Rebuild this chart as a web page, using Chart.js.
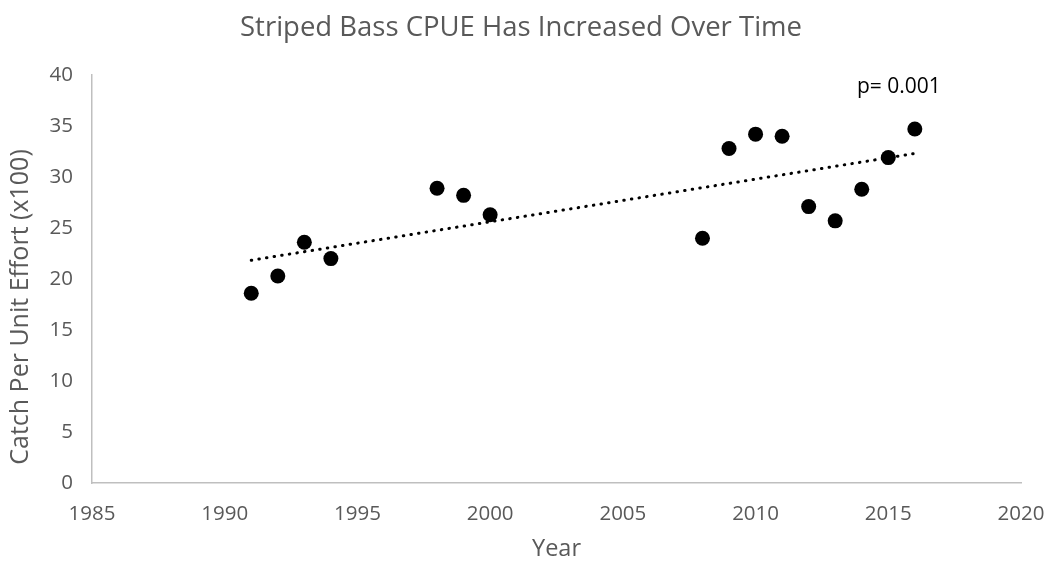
<!DOCTYPE html>
<html><head><meta charset="utf-8">
<script src="https://cdn.jsdelivr.net/npm/chart.js@4"></script>
<style>html,body{margin:0;padding:0;background:#fff}#wrap{width:1048px;height:565px}</style>
</head><body><div id="wrap"><canvas id="c" width="1048" height="565"></canvas></div>
<script>
const years = [1991,1992,1993,1994,1998,1999,2000,2008,2009,2010,2011,2012,2013,2014,2015,2016];
const cpue  = [18.6,20.3,23.6,22.0,28.9,28.2,26.3,24.0,32.8,34.2,34.0,27.1,25.7,28.8,31.9,34.7];
const xTickLabels = [1985,1990,1995,2000,2005,2010,2015,2020];
const yTickLabels = [0,5,10,15,20,25,30,35,40];
const chartTitle = 'Striped Bass CPUE Has Increased Over Time';
const xTitle = 'Year';
const yTitle = 'Catch Per Unit Effort (x100)';
const pLabel = 'p= 0.001';

// least-squares trendline computed from the data
const n = years.length;
const mx = years.reduce((a,b)=>a+b,0)/n;
const my = cpue.reduce((a,b)=>a+b,0)/n;
let sxy = 0, sxx = 0;
for (let i=0;i<n;i++){ sxy += (years[i]-mx)*(cpue[i]-my); sxx += (years[i]-mx)**2; }
const slope = sxy/sxx, icpt = my - slope*mx;
const x0 = years[0], x1 = years[n-1];
const trend = [{x:x0,y:icpt+slope*x0},{x:x1,y:icpt+slope*x1}];

const FONT = "'Open Sans', 'Noto Sans', sans-serif";
const GRAY = '#595959';

const textPlugin = {
  id: 'extraText',
  afterDatasetsDraw(chart){
    const {ctx, chartArea, scales:{x,y}} = chart;
    ctx.save();
    ctx.textAlign = 'center';
    ctx.textBaseline = 'middle';
    // chart title
    ctx.font = "27.5px " + FONT;
    ctx.fillStyle = GRAY;
    ctx.fillText(chartTitle, 521, 28);
    // p-value annotation
    ctx.font = "21px " + FONT;
    ctx.fillStyle = '#000';
    ctx.fillText(pLabel, x.getPixelForValue(2015.4), y.getPixelForValue(38.85));
    // y axis title
    ctx.font = "25px " + FONT;
    ctx.fillStyle = GRAY;
    ctx.translate(21, (chartArea.top + chartArea.bottom)/2 + 28);
    ctx.rotate(-Math.PI/2);
    ctx.fillText(yTitle, 0, 0);
    ctx.restore();
  }
};

new Chart(document.getElementById('c'), {
  type: 'scatter',
  data: {
    datasets: [
      {
        label: 'CPUE',
        data: years.map((yr,i)=>({x:yr, y:cpue[i]})),
        pointRadius: 7.5,
        pointHoverRadius: 7.5,
        pointBackgroundColor: '#000',
        pointBorderWidth: 0,
        showLine: false
      },
      {
        label: 'Trend',
        type: 'line',
        data: trend,
        borderColor: '#000',
        borderWidth: 3,
        borderDash: [0.5, 7.2],
        borderCapStyle: 'round',
        pointRadius: 0,
        fill: false
      }
    ]
  },
  options: {
    responsive: false,
    animation: false,
    devicePixelRatio: 1,
    layout: { padding: { left: 0, right: 27, top: 75, bottom: 0 } },
    plugins: {
      legend: { display: false },
      tooltip: { enabled: false },
      title: { display: false }
    },
    scales: {
      x: {
        type: 'linear',
        min: 1985, max: 2020,
        afterBuildTicks: s => { s.ticks = xTickLabels.map(v=>({value:v})); },
        afterFit: s => { s.height = 82; s.paddingLeft = 0; s.paddingRight = 0; },
        grid: { display: false, drawTicks: false },
        border: { display: true, color: '#bfbfbf', width: 1.5 },
        ticks: {
          callback: v => String(v),
          color: GRAY, padding: 19, maxRotation: 0, autoSkip: false,
          font: { family: FONT, size: 20.5 }
        },
        title: {
          display: true, text: xTitle, color: GRAY,
          font: { family: FONT, size: 23.5 },
          padding: { top: 0, bottom: 2 }
        }
      },
      y: {
        type: 'linear',
        min: 0, max: 40,
        afterBuildTicks: s => { s.ticks = yTickLabels.map(v=>({value:v})); },
        afterFit: s => { s.width = 92; s.paddingTop = 0; s.paddingBottom = 0; },
        grid: { display: false, drawTicks: false },
        border: { display: true, color: '#bfbfbf', width: 1.5 },
        ticks: {
          callback: v => String(v),
          color: GRAY, padding: 19, autoSkip: false,
          font: { family: FONT, size: 20.5 }
        },
        title: { display: false }
      }
    }
  },
  plugins: [textPlugin]
});
</script>
</body></html>
